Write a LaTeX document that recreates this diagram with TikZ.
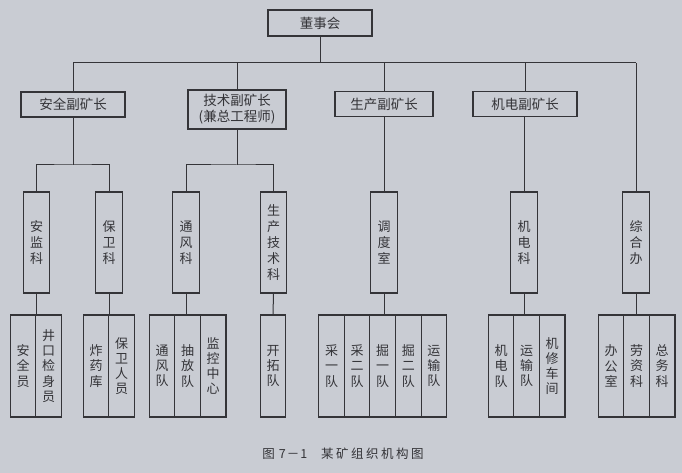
\documentclass[tikz,border=0pt]{standalone}
\usepackage{fontspec}
\setmainfont{Noto Sans CJK SC}
\definecolor{paper}{RGB}{201,204,211}
\definecolor{ink}{RGB}{52,52,56}
\begin{document}
\begin{tikzpicture}[x=1pt,y=-1pt,
  line/.style={draw=ink,line width=1pt},
  box/.style={draw=ink,line width=1.1pt,inner sep=0pt,text=ink,align=center},
  hbox/.style={box,minimum height=25pt,font=\fontsize{13.5}{15.5}\selectfont},
  vbox/.style={box,minimum width=26.5pt,minimum height=101pt,font=\fontsize{13}{16}\selectfont},
  leaf/.style={box,minimum width=25.6pt,minimum height=102pt,font=\fontsize{13}{15.2}\selectfont}]
\fill[paper] (0,0) rectangle (682,473);
\useasboundingbox (0,0) rectangle (682,473);
% top
\node[hbox,minimum width=104pt,minimum height=26pt] (top) at (320,23) {董事会};
% level 2
\node[hbox,minimum width=104pt] (a1) at (73,104.5) {安全副矿长};
\node[hbox,minimum width=98pt,minimum height=39pt,font=\fontsize{13.5}{16}\selectfont] (a2) at (237,109.5) {技术副矿长\\(兼总工程师)};
\node[hbox,minimum width=98pt] (a3) at (384,104) {生产副矿长};
\node[hbox,minimum width=104pt] (a4) at (525,104) {机电副矿长};
% level 3
\node[vbox] (c1) at (36.5,242.5) {安\\监\\科};
\node[vbox] (c2) at (109,242.5) {保\\卫\\科};
\node[vbox] (c3) at (186,242.5) {通\\风\\科};
\node[vbox] (c4) at (273.5,242.5) {生\\产\\技\\术\\科};
\node[vbox] (c5) at (384,242.5) {调\\度\\室};
\node[vbox] (c6) at (524,242.5) {机\\电\\科};
\node[vbox] (c7) at (636,242.5) {综\\合\\办};
% level 4
\node[leaf] (d11) at (23,366) {安\\全\\员};
\node[leaf] (d12) at (48.6,366) {井\\口\\检\\身\\员};
\node[leaf] (d21) at (96,366) {炸\\药\\库};
\node[leaf] (d22) at (121.6,366) {保\\卫\\人\\员};
\node[leaf] (d31) at (162,366) {通\\风\\队};
\node[leaf] (d32) at (187.6,366) {抽\\放\\队};
\node[leaf] (d33) at (213.2,366) {监\\控\\中\\心};
\node[leaf] (d41) at (273,366) {开\\拓\\队};
\node[leaf] (d51) at (331.5,366) {采\\一\\队};
\node[leaf] (d52) at (357.1,366) {采\\二\\队};
\node[leaf] (d53) at (382.7,366) {掘\\一\\队};
\node[leaf] (d54) at (408.3,366) {掘\\二\\队};
\node[leaf] (d55) at (433.9,366) {运\\输\\队};
\node[leaf] (d61) at (501,366) {机\\电\\队};
\node[leaf] (d62) at (526.6,366) {运\\输\\队};
\node[leaf] (d63) at (552.2,366) {机\\修\\车\\间};
\node[leaf] (d71) at (611,366) {办\\公\\室};
\node[leaf] (d72) at (636.6,366) {劳\\资\\科};
\node[leaf] (d73) at (662.2,366) {总\\务\\科};
% caption
\node[text=ink,font=\fontsize{12.5}{14}\selectfont,inner sep=0pt] (cap) at (343,454)
  {图\hspace{4pt}7\hspace{1pt}－\hspace{1pt}1\hspace{14pt}某\hspace{2.5pt}矿\hspace{2.5pt}组\hspace{2.5pt}织\hspace{2.5pt}机\hspace{2.5pt}构\hspace{2.5pt}图};
% connectors level 1-2
\coordinate (busL) at (73,63);
\coordinate (busR) at (636,63);
\draw[line] (busL) -- (busR);
\draw[line] (top.south) -- (top.south |- busL);
\draw[line] (a1.north) -- (a1.north |- busL);
\draw[line] (a2.north) -- (a2.north |- busL);
\draw[line] (a3.north) -- (a3.north |- busL);
\draw[line] (a4.north) -- (a4.north |- busL);
\draw[line] (busR) -- (c7.north);
% level 2-3
\coordinate (j1) at (73,165);
\coordinate (j2) at (237,165);
\draw[line] (a1.south) -- (j1);
\draw[line] (c1.north) |- (j1) -| (c2.north);
\draw[line] (a2.south) -- (j2);
\draw[line] (c3.north) |- (j2) -| (c4.north);
\draw[line] (a3.south) -- (c5.north);
\draw[line] (a4.south -| c6.north) -- (c6.north);
% level 3-4
\draw[line] (c1.south) -- (c1.south |- d11.north);
\draw[line] (c2.south) -- (c2.south |- d21.north);
\draw[line] (c3.south) -- (c3.south |- d32.north);
\draw[line] (c4.south) -- (d41.north);
\draw[line] (c5.south) -- (c5.south |- d53.north);
\draw[line] (c6.south) -- (c6.south |- d62.north);
\draw[line] (c7.south) -- (c7.south |- d72.north);
\end{tikzpicture}
\end{document}
